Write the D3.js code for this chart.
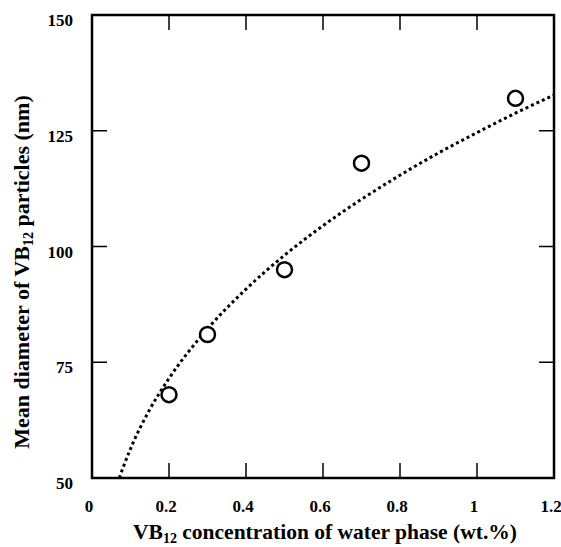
<!DOCTYPE html>
<html><head><meta charset="utf-8">
<script src="https://cdn.jsdelivr.net/npm/d3@7"></script>
<style>body{margin:0;background:#fff}svg{display:block}</style>
</head><body>
<script>
const concentrations = [0.2, 0.3, 0.5, 0.7, 1.1];
const diameters = [68, 81, 95, 118, 132];
// dotted trend curve
const fitX = [0.071, 0.08, 0.1, 0.15, 0.2, 0.3, 0.4, 0.5, 0.6, 0.7, 0.8, 0.9, 1.0, 1.1, 1.2];
const fitY = [50, 52.1, 56.3, 64.8, 71.5, 82.2, 90.8, 98.1, 104.5, 110.2, 115.4, 120.2, 124.6, 128.8, 132.7];
const xTicks = [0, 0.2, 0.4, 0.6, 0.8, 1, 1.2];
const yTicks = [50, 75, 100, 125, 150];

const W = 561, H = 547;
const L = 92, R = 554, T = 15, B = 478;
const svg = d3.select("body").append("svg").attr("width", W).attr("height", H);
const x = d3.scaleLinear().domain([0, 1.2]).range([L, R]);
const y = d3.scaleLinear().domain([50, 150]).range([B, T]);
const font = "'Liberation Serif','Times New Roman',serif";

// ticks inward on all sides
const tl = 15;
const g = svg.append("g").attr("stroke", "#000").attr("stroke-width", 1.5);
xTicks.slice(1, -1).forEach(v => {
  g.append("line").attr("x1", x(v)).attr("x2", x(v)).attr("y1", B).attr("y2", B - tl);
  g.append("line").attr("x1", x(v)).attr("x2", x(v)).attr("y1", T).attr("y2", T + tl);
});
yTicks.slice(1, -1).forEach(v => {
  g.append("line").attr("x1", L).attr("x2", L + tl).attr("y1", y(v)).attr("y2", y(v));
  g.append("line").attr("x1", R).attr("x2", R - tl).attr("y1", y(v)).attr("y2", y(v));
});
svg.append("rect").attr("x", L).attr("y", T).attr("width", R - L).attr("height", B - T)
  .attr("fill", "none").attr("stroke", "#000").attr("stroke-width", 2.5);

// tick labels
svg.append("g").selectAll("text").data(xTicks).join("text")
  .attr("x", d => x(d) - 3).attr("y", 512).attr("text-anchor", "middle")
  .attr("font-family", font).attr("font-weight", "bold").attr("font-size", 17)
  .text(d => d3.format("")(d));
svg.append("g").selectAll("text").data(yTicks).join("text")
  .attr("x", 73).attr("y", d => y(d) + 11).attr("text-anchor", "end")
  .attr("font-family", font).attr("font-weight", "bold").attr("font-size", 17)
  .text(d => d);

// curve
const pts = fitX.map((v, i) => [v, fitY[i]]);
svg.append("path").datum(pts)
  .attr("d", d3.line().x(d => x(d[0])).y(d => y(d[1])).curve(d3.curveMonotoneX))
  .attr("fill", "none").attr("stroke", "#000").attr("stroke-width", 3)
  .attr("stroke-dasharray", "3,3");

// points
svg.append("g").selectAll("circle").data(concentrations).join("circle")
  .attr("cx", d => x(d)).attr("cy", (d, i) => y(diameters[i])).attr("r", 7.5)
  .attr("fill", "#fff").attr("stroke", "#000").attr("stroke-width", 2.5);

// axis titles
const xt = svg.append("text").attr("x", (L + R) / 2 + 2).attr("y", 539).attr("text-anchor", "middle")
  .attr("font-family", font).attr("font-weight", "bold").attr("font-size", 21.5);
xt.append("tspan").text("VB");
xt.append("tspan").attr("font-size", 14).attr("dy", 4).text("12");
xt.append("tspan").attr("dy", -4).text(" concentration of water phase (wt.%)");

const yt = svg.append("text").attr("transform", `translate(29,272) rotate(-90)`)
  .attr("text-anchor", "middle")
  .attr("font-family", font).attr("font-weight", "bold").attr("font-size", 22);
yt.append("tspan").text("Mean diameter of VB");
yt.append("tspan").attr("font-size", 14).attr("dy", 4).text("12");
yt.append("tspan").attr("dy", -4).text(" particles (nm)");
</script>
</body></html>
